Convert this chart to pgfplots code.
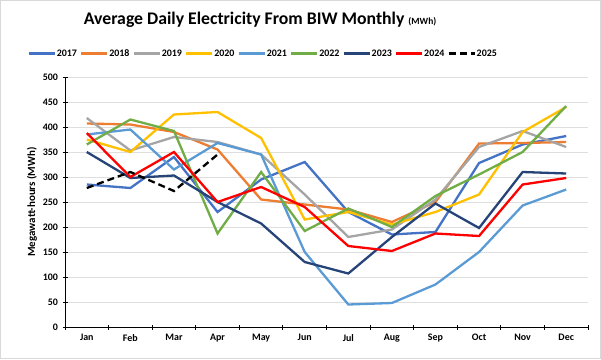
\documentclass[border=0pt]{standalone}
\usepackage{pgfplots}
\pgfplotsset{compat=1.18}
\usepackage{fontspec}
\setmainfont{Carlito}
\definecolor{c17}{HTML}{4472C4}
\definecolor{c18}{HTML}{ED7D31}
\definecolor{c19}{HTML}{A5A5A5}
\definecolor{c20}{HTML}{FFC000}
\definecolor{c21}{HTML}{5B9BD5}
\definecolor{c22}{HTML}{70AD47}
\definecolor{c23}{HTML}{264478}
\definecolor{c24}{HTML}{FF0000}
\begin{document}
\begin{tikzpicture}[x=1bp,y=1bp]
\path[use as bounding box] (0,0) rectangle (601,359);
\draw[black!15, line width=1.2bp] (0.6,0.6) rectangle (600.4,358.4);
\begin{axis}[
  at={(65bp,32bp)}, anchor=south west,
  scale only axis, width=523bp, height=250bp,
  xmin=0.5, xmax=12.5, ymin=0, ymax=500,
  axis lines*=left,
  axis line style={line width=1bp, black},
  tick align=center,
  major tick length=5bp,
  tick style={line width=0.9bp, black},
  xtick={0.5,1.5,...,12.5},
  x tick label as interval,
  xticklabels={Jan,Feb,Mar,Apr,May,Jun,Jul,Aug,Sep,Oct,Nov,Dec},
  ytick={0,50,...,500},
  ymajorgrids,
  major grid style={black!13, line width=0.8bp},
  /pgf/number format/assume math mode=true,
  tick label style={font=\bfseries\fontsize{10}{12}\selectfont},
  xticklabel style={yshift=-1bp},
  yticklabel style={xshift=-1bp},
  ylabel={Megawatt-hours (MWh)},
  ylabel style={font=\bfseries\fontsize{11}{13}\selectfont, yshift=-1bp},
  title={Average Daily Electricity From BIW Monthly {\fontsize{9.5}{10}\selectfont(MWh)}},
  title style={font=\bfseries\fontsize{17.8}{21}\selectfont, at={(axis description cs:0.373,1.205)}, anchor=center},
  legend columns=9,
  legend style={at={(axis description cs:0.379,1.094)}, anchor=center, draw=none, fill=none,
    font=\bfseries\fontsize{10}{12}\selectfont,
    /tikz/every even column/.append style={column sep=1bp},
    /tikz/every odd column/.append style={column sep=-1bp},
    inner sep=0pt},
  legend image code/.code={\draw[#1] (0bp,0bp) -- (26bp,0bp);},
  every axis plot/.append style={line width=2.3bp},
]
\addplot[c17] coordinates {(1,285)(2,278)(3,340)(4,230)(5,295)(6,330)(7,230)(8,185)(9,190)(10,328)(11,365)(12,382)};
\addlegendentry{2017}
\addplot[c18] coordinates {(1,407)(2,405)(3,390)(4,355)(5,255)(6,245)(7,235)(8,210)(9,250)(10,367)(11,368)(12,370)};
\addlegendentry{2018}
\addplot[c19] coordinates {(1,418)(2,353)(3,380)(4,370)(5,345)(6,265)(7,180)(8,195)(9,255)(10,360)(11,392)(12,360)};
\addlegendentry{2019}
\addplot[c20] coordinates {(1,375)(2,350)(3,425)(4,430)(5,378)(6,215)(7,230)(8,205)(9,230)(10,265)(11,390)(12,440)};
\addlegendentry{2020}
\addplot[c21] coordinates {(1,385)(2,395)(3,315)(4,368)(5,345)(6,150)(7,45)(8,48)(9,85)(10,150)(11,243)(12,275)};
\addlegendentry{2021}
\addplot[c22] coordinates {(1,365)(2,415)(3,392)(4,187)(5,310)(6,192)(7,237)(8,200)(9,262)(10,305)(11,350)(12,442)};
\addlegendentry{2022}
\addplot[c23] coordinates {(1,350)(2,298)(3,303)(4,250)(5,207)(6,130)(7,107)(8,180)(9,247)(10,198)(11,310)(12,307)};
\addlegendentry{2023}
\addplot[c24] coordinates {(1,388)(2,300)(3,350)(4,250)(5,280)(6,240)(7,162)(8,152)(9,187)(10,182)(11,285)(12,298)};
\addlegendentry{2024}
\addplot[black, dash pattern=on 7bp off 4bp] coordinates {(1,278)(2,310)(3,272)(4,345)};
\addlegendentry{2025}
\end{axis}
\end{tikzpicture}
\end{document}
